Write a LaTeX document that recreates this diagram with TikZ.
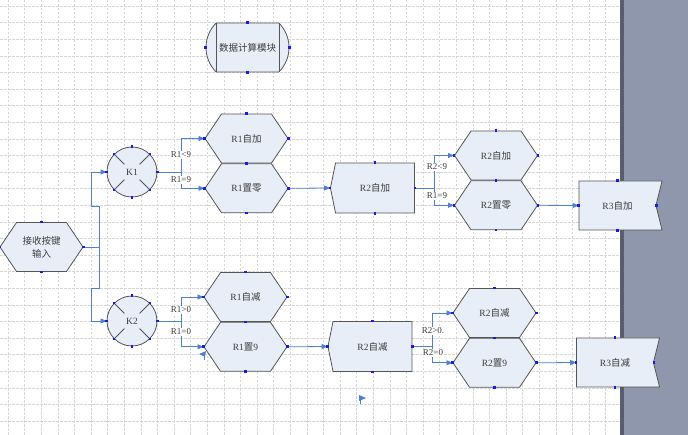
\documentclass[tikz,border=0pt]{standalone}
\usepackage{fontspec}
\setmainfont{Liberation Serif}
\newfontfamily\cjk{Noto Sans CJK SC}
\usetikzlibrary{shapes.symbols, shapes.misc, arrows.meta, positioning, calc}
\definecolor{shapefill}{RGB}{232,238,248}
\definecolor{shapeline}{RGB}{85,85,85}
\definecolor{wireblue}{RGB}{78,128,205}
\definecolor{pinblue}{RGB}{25,25,235}
\definecolor{gridgray}{RGB}{214,214,214}
\definecolor{panelgray}{RGB}{143,151,172}
\definecolor{paneldark}{RGB}{88,94,110}
\definecolor{txtgray}{RGB}{60,60,60}
\tikzset{
  base/.style={draw=shapeline,fill=shapefill,line width=0.8pt,text=txtgray,
               font=\fontsize{9.5}{13}\selectfont,align=center,inner sep=0pt},
  hexa/.style={base,shape=signal,signal to=east and west,signal pointer angle=112,
               minimum width=83pt,minimum height=49pt},
  proc/.style={base,shape=signal,signal to=west,signal pointer angle=157,
               minimum width=84pt,minimum height=50pt},
  flag/.style={base,shape=signal,signal to=nowhere,signal from=east,signal pointer angle=152,
               minimum width=83pt,minimum height=49pt},
  keyc/.style={base,circle,minimum size=50pt},
  term/.style={base,rounded rectangle,rounded rectangle arc length=90,
               minimum width=83pt,minimum height=49pt},
  arr/.style={-{Triangle[length=6pt,width=5pt]},line width=0.8pt,color=wireblue},
  cond/.style={fill=white,inner sep=0.6pt,text=txtgray,font=\fontsize{9}{10}\selectfont},
  gridline/.style={gridgray,line width=0.45pt,dash pattern=on 2.5pt off 1.5pt},
}

\begin{document}
\begin{tikzpicture}[x=1pt,y=-1pt]
  \useasboundingbox (0,0) rectangle (688,435);
  \fill[white] (0,0) rectangle (688,435);
  % grid
  \foreach \i in {0,...,36}
    \draw[gridline] ({8+16.6*\i},0) -- ({8+16.6*\i},435);
  \foreach \j in {0,...,25}
    \draw[gridline] (0,{6+16.6*\j}) -- (620,{6+16.6*\j});
  \fill[panelgray] (620,0) rectangle (688,435);
  \fill[paneldark] (620,0) rectangle (624,435);

  % shapes
  \node[term,font=\fontsize{9.5}{13}\selectfont\cjk](calc) at (247.5,47.5){数据计算模块};
  \node[hexa,font=\fontsize{9.5}{13}\selectfont\cjk](inp) at (41.5,247){接收按键\\输入};
  \node[keyc](k1) at (132,172){K1};
  \node[keyc](k2) at (132,321){K2};
  \node[hexa](r1inc) at (246.5,138.5){R1\cjk 自加};
  \node[hexa,below=0pt of r1inc](r1clr){R1\cjk 置零};
  \node[proc](r2inc) at (375,188){R2\cjk 自加};
  \node[hexa](r2ia) at (496,155.5){R2\cjk 自加};
  \node[hexa,below=0pt of r2ia](r2clr){R2\cjk 置零};
  \node[flag](r3inc) at (617.5,205.5){R3\cjk 自加};
  \node[hexa](r1dec) at (245.5,297){R1\cjk 自减};
  \node[hexa,below=0pt of r1dec](r1set){R1\cjk 置\rmfamily 9};
  \node[proc](r2dec) at (372.5,346.5){R2\cjk 自减};
  \node[hexa](r2da) at (494.5,313){R2\cjk 自减};
  \node[hexa,below=0pt of r2da](r2set){R2\cjk 置\rmfamily 9};
  \node[flag](r3dec) at (615,362.5){R3\cjk 自减};

  \draw[shapeline,line width=0.8pt] ([xshift=-31.5pt]calc.north) -- ([xshift=-31.5pt]calc.south);
  \draw[shapeline,line width=0.8pt] ([xshift=31.5pt]calc.north) -- ([xshift=31.5pt]calc.south);
  \foreach \k in {k1,k2}
    \foreach \t in {45,135,225,315}
      \draw[shapeline,line width=0.8pt] (\k.\t) -- ($(\k)!0.42!(\k.\t)$);

  % connectors
  \draw[arr] (inp.east) -- ++(16,0) -- ++(0,-41) -- ++(-8,0) |- (k1.west);
  \draw[arr] (inp.east) -- ++(16,0) -- ++(0,41) -- ++(-8,0) |- (k2.west);
  \draw[arr] (k1.east) -- ++(24,0) |- (r1inc.west);
  \draw[arr] (k1.east) -- ++(24,0) |- (r1clr.west);
  \draw[arr] (k2.east) -- ++(24,0) |- (r1dec.west);
  \draw[arr] (k2.east) -- ++(24,0) |- (r1set.west);
  \draw[arr] (r2inc.east) -- ++(20,0) |- (r2ia.west);
  \draw[arr] (r2inc.east) -- ++(20,0) |- (r2clr.west);
  \draw[arr] (r2dec.east) -- ++(20,0) |- (r2da.west);
  \draw[arr] (r2dec.east) -- ++(20,0) |- (r2set.west);
  \foreach \a/\b in {r1clr/r2inc,r2clr/r3inc,r1set/r2dec,r2set/r3dec}
    \draw[arr](\a.east)--(\b.west);

  \node[cond](l1) at (181,155){R1<9};
  \node[cond](l2) at (181,180){R1=9};
  \node[cond](l3) at (437,167){R2<9};
  \node[cond](l4) at (437,196){R1=9};
  \node[cond](l5) at (181,310){R1>0};
  \node[cond](l6) at (181,332){R1=0};
  \node[cond](l7) at (433,331){R2>0.};
  \node[cond](l8) at (433,353){R2=0};

  % loose arrow heads
  \fill[wireblue] (199,354) -- (206,351) -- (205,357) -- cycle;
  \draw[wireblue,line width=0.8pt] (204.5,356) -- (204.5,360);
  \fill[wireblue] (359,395) -- (366,398) -- (359,401) -- cycle;
  \draw[wireblue,line width=0.8pt] (360,399) -- (360,404);

  % connection points
  \foreach \n in {calc,inp,r1inc,r1clr,r2inc,r2ia,r2clr,r3inc,r1dec,r1set,r2dec,r2da,r2set,r3dec}
    \foreach \a in {north,south,west,east}
      \fill[pinblue] ($(\n.\a)+(-1.3,-1.3)$) rectangle +(2.6,2.6);
  \foreach \k in {k1,k2}
    \foreach \t in {0,45,...,315}
      \fill[pinblue] ($(\k.\t)+(-1.3,-1.3)$) rectangle +(2.6,2.6);
\end{tikzpicture}
\end{document}
